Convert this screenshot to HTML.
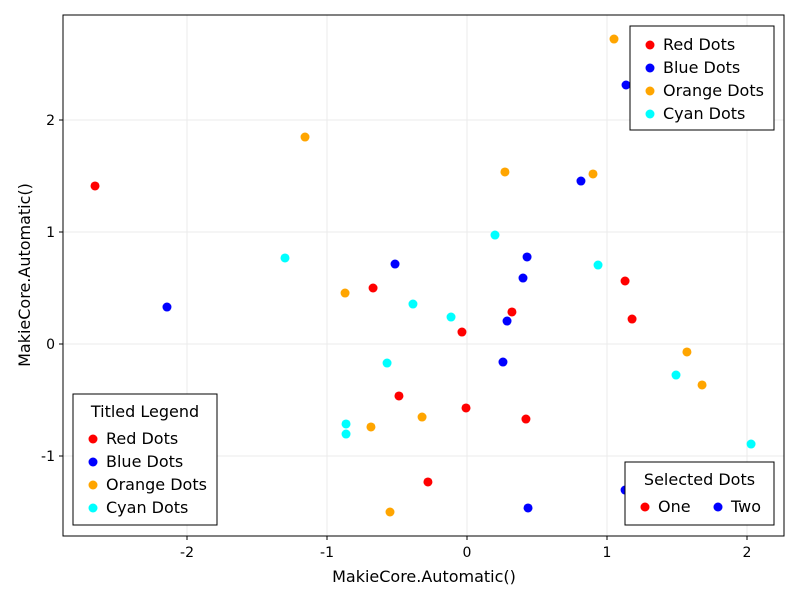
<!DOCTYPE html>
<html><head><meta charset="utf-8"><style>
body{margin:0;background:#fff;font-family:"DejaVu Sans","Liberation Sans",sans-serif}
svg text{font-family:"DejaVu Sans","Liberation Sans",sans-serif;fill:#000}
</style></head><body>
<svg id="chart" width="800" height="600" xmlns="http://www.w3.org/2000/svg"></svg>
<script>
const categories=["Red Dots","Blue Dots","Orange Dots","Cyan Dots"];
const colors=["#ff0000","#0000ff","#ffa500","#00ffff"];
const redX=[-2.657,-0.671,-0.036,0.321,1.129,1.179,-0.486,-0.007,0.421,-0.279];
const redY=[1.411,0.5,0.107,0.286,0.5625,0.223,-0.464,-0.571,-0.67,-1.232];
const blueX=[1.136,-2.143,-0.514,0.429,0.4,0.814,0.286,0.257,0.436,1.129];
const blueY=[2.3125,0.33,0.714,0.777,0.589,1.455,0.205,-0.161,-1.464,-1.304];
const orangeX=[1.05,-1.157,0.271,0.9,-0.871,-0.321,-0.686,-0.55,1.571,1.679];
const orangeY=[2.723,1.848,1.536,1.518,0.455,-0.652,-0.741,-1.5,-0.071,-0.366];
const cyanX=[-1.3,0.2,0.936,-0.386,-0.114,-0.571,-0.864,-0.864,1.493,2.029];
const cyanY=[0.768,0.973,0.705,0.357,0.241,-0.17,-0.714,-0.804,-0.277,-0.893];
const xTicks=[-2,-1,0,1,2];
const yTicks=[-1,0,1,2];
const xTickLabels=["-2","-1","0","1","2"];
const yTickLabels=["-1","0","1","2"];

const NS="http://www.w3.org/2000/svg";
const svg=document.getElementById('chart');
const L=63,R=784,T=15,B=536;
const sx=v=>467+v*140;
const sy=v=>344-v*112;
function el(tag,attrs,parent){const e=document.createElementNS(NS,tag);for(const k in attrs)e.setAttribute(k,attrs[k]);(parent||svg).appendChild(e);return e;}
function txt(s,attrs,parent){const e=el('text',attrs,parent);e.textContent=s;return e;}

xTicks.forEach((t,i)=>{
  const g=el('line',{x1:sx(t),x2:sx(t),y1:T,y2:B,stroke:'#ebebeb','stroke-width':1});
  
  
  const tk=el('line',{x1:sx(t),x2:sx(t),y1:B,y2:B+4,stroke:'#000'});
  
  
  const lb=txt(xTickLabels[i],{x:sx(t),y:B+21,'text-anchor':'middle','font-size':14});
  
  
});
yTicks.forEach((t,i)=>{
  const g=el('line',{x1:L,x2:R,y1:sy(t),y2:sy(t),stroke:'#ebebeb','stroke-width':1});
  
  
  const tk=el('line',{x1:L-4,x2:L,y1:sy(t),y2:sy(t),stroke:'#000'});
  
  
  const lb=txt(yTickLabels[i],{x:L-8,y:sy(t)+5,'text-anchor':'end','font-size':14});
  
  
});
const frame=el('rect',{x:L,y:T,width:R-L,height:B-T,fill:'none',stroke:'#000','stroke-width':1});



const series=[[redX,redY],[blueX,blueY],[orangeX,orangeY],[cyanX,cyanY]];
series.forEach((s,k)=>{
  s[0].forEach((x,i)=>{
    const c=el('circle',{cx:sx(x),cy:sy(s[1][i]),r:4.5,fill:colors[k]});
    
    
  });
});

const xt=txt('MakieCore.Automatic()',{x:424,y:582,'text-anchor':'middle','font-size':16});


const yt=txt('MakieCore.Automatic()',{x:0,y:0,'text-anchor':'middle','font-size':16,transform:'translate(30,275) rotate(-90)'});



function legend(name,x,y,w,h,title,entries,cols){
  const g=el('g',{});
  
  
  el('rect',{x:x,y:y,width:w,height:h,fill:'#fff',stroke:'#000','stroke-width':1},g);
  let y0=y+24;
  if(title){const t=txt(title,{x:x+w/2,y:y+23,'text-anchor':'middle','font-size':16},g);y0=y+50;}
  entries.forEach((e,i)=>{
    const ex=cols?x+20+i*73:x+20, ey=cols?y0:y0+i*23;
    const c=el('circle',{cx:ex,cy:ey-5,r:4.5,fill:e[1]},g);
    
    
    const t=txt(e[0],{x:ex+13,y:ey,'font-size':16},g);
    
    
  });
}
const ents=categories.map((c,i)=>[c,colors[i]]);
legend('legend-top-right',630,26,144,104,null,ents,false);
legend('legend-titled',73,394,144,131,'Titled Legend',ents,false);
legend('legend-selected',625,462,149,63,'Selected Dots',[['One',colors[0]],['Two',colors[1]]],true);
</script>
</body></html>
